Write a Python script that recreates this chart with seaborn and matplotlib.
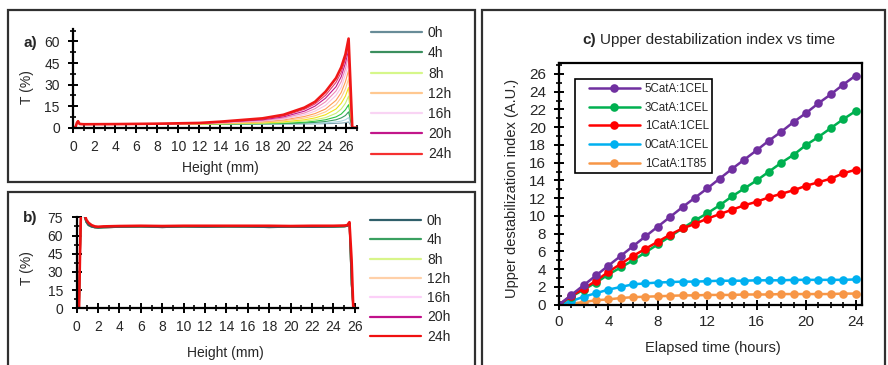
import matplotlib
matplotlib.use("Agg")
import matplotlib.pyplot as plt
import seaborn as sns
import numpy as np
import pandas as pd
from matplotlib.lines import Line2D
from matplotlib.patches import Rectangle
from matplotlib.ticker import MultipleLocator

# ---------------- data ----------------
# panel a : transmission profiles (every 2 h), height in mm
height_a = [0, 0.2, 0.35, 0.45, 0.6, 1, 4, 8, 12, 14, 18, 20, 22, 23, 24, 25, 25.5, 25.9, 26.2, 26.55, 27.0]
hours_a = ["0h", "2h", "4h", "6h", "8h", "10h", "12h", "14h", "16h", "18h", "20h", "22h", "24h"]
T_a_0h  = [0, 0.3, 3.5, 4.5, 2.6, 2.4, 2.4, 2.4, 2.4, 2.4, 2.5, 2.5, 2.6, 2.7, 2.8, 3.0, 3.2, 3.5, 4.0, 0, 0]
T_a_2h  = [0, 0.3, 3.5, 4.5, 2.6, 2.4, 2.4, 2.4, 2.4, 2.5, 2.6, 2.7, 2.9, 3.1, 3.4, 4.0, 4.6, 5.5, 7.0, 0, 0]
T_a_4h  = [0, 0.3, 3.5, 4.5, 2.6, 2.4, 2.4, 2.4, 2.4, 2.5, 2.7, 2.9, 3.3, 3.7, 4.3, 5.5, 6.8, 8.5, 11.0, 0, 0]
T_a_6h  = [0, 0.3, 3.5, 4.5, 2.6, 2.4, 2.4, 2.4, 2.5, 2.6, 2.9, 3.2, 3.8, 4.5, 5.5, 7.5, 9.5, 12.5, 16.0, 0, 0]
T_a_8h  = [0, 0.3, 3.5, 4.5, 2.6, 2.4, 2.4, 2.5, 2.6, 2.7, 3.1, 3.6, 4.6, 5.5, 7.0, 10.0, 13.0, 17.0, 22.0, 0, 0]
T_a_10h = [0, 0.3, 3.5, 4.5, 2.6, 2.4, 2.4, 2.5, 2.6, 2.8, 3.4, 4.1, 5.5, 6.8, 9.0, 13.0, 17.0, 22.0, 28.0, 0, 0]
T_a_12h = [0, 0.3, 3.5, 4.5, 2.6, 2.4, 2.5, 2.5, 2.7, 3.0, 3.8, 4.8, 6.7, 8.3, 11.0, 16.0, 21.0, 27.0, 34.0, 0, 0]
T_a_14h = [0, 0.3, 3.5, 4.5, 2.6, 2.4, 2.5, 2.6, 2.8, 3.2, 4.2, 5.4, 7.8, 9.8, 13.0, 19.0, 24.5, 32.0, 40.0, 0, 0]
T_a_16h = [0, 0.3, 3.5, 4.5, 2.6, 2.4, 2.5, 2.6, 2.9, 3.4, 4.6, 6.0, 9.0, 11.5, 15.5, 22.5, 28.0, 37.0, 45.0, 0, 0]
T_a_18h = [0, 0.3, 3.5, 4.5, 2.6, 2.4, 2.5, 2.7, 3.0, 3.6, 5.0, 6.7, 10.2, 13.2, 18.0, 25.5, 32.0, 41.0, 50.0, 0, 0]
T_a_20h = [0, 0.3, 3.5, 4.5, 2.6, 2.4, 2.5, 2.7, 3.1, 3.8, 5.5, 7.5, 11.5, 15.0, 20.5, 28.5, 35.5, 45.0, 54.0, 0, 0]
T_a_22h = [0, 0.3, 3.5, 4.5, 2.6, 2.4, 2.5, 2.8, 3.2, 4.0, 6.0, 8.2, 12.8, 16.5, 22.5, 31.5, 38.5, 48.0, 58.0, 0, 0]
T_a_24h = [0, 0.3, 3.5, 4.5, 2.6, 2.4, 2.5, 2.8, 3.3, 4.2, 6.5, 9.0, 14.0, 18.0, 25.0, 34.5, 42.0, 51.0, 62.0, 0, 0]
T_a = [T_a_0h, T_a_2h, T_a_4h, T_a_6h, T_a_8h, T_a_10h, T_a_12h,
       T_a_14h, T_a_16h, T_a_18h, T_a_20h, T_a_22h, T_a_24h]
colors_a = ["#7fa4b0", "#a9d6e2", "#3a9a62", "#2cc444", "#c9ef74", "#efe21a", "#ffc88c",
            "#ff9d55", "#f6c4e6", "#f08ab8", "#c2168a", "#e23a70", "#f01818"]
legend_hours = ["0h", "4h", "8h", "12h", "16h", "20h", "24h"]
legend_colors_a = ["#688c98", "#3b8f5e", "#d6f78a", "#ffc890", "#f9d4f4", "#c2168a", "#f53030"]

# panel b : transmission profiles (curves 0h-20h overlap each other)
height_b = [0, 0.22, 0.3, 0.42, 0.6, 0.75, 0.9, 1.1, 1.4, 1.7, 2.0, 2.5, 4, 6, 8, 10, 12, 14,
            16, 18, 20, 22, 24, 25.0, 25.3, 25.5, 25.7, 25.85, 26.0, 26.3]
T_b_early = [0, 0, 38, 88, 88, 75, 71, 68.5, 67.2, 66.6, 66.3, 66.6, 67.0, 67.2, 66.8, 67.2, 67.0,
             67.2, 67.1, 66.8, 67.0, 66.9, 67.1, 67.4, 67.8, 69.5, 20, 1, 0, 0]
T_b_24h = [0, 0, 40, 90, 90, 77, 73, 70.5, 68.5, 67.5, 67.2, 67.5, 67.8, 68.0, 67.8, 68.0, 68.0,
           68.0, 68.0, 68.0, 67.8, 68.0, 68.0, 68.2, 68.5, 71.0, 40, 2, 0, 0]
legend_colors_b = ["#2f5f6a", "#3aa060", "#d8f58a", "#ffd0a8", "#fcd0f8", "#c0108a", "#f01010"]

# panel c : upper destabilization index vs elapsed time
elapsed_h = list(range(25))
idx_5CatA_1CEL = [0, 1.1, 2.2, 3.3, 4.4, 5.5, 6.6, 7.7, 8.8, 9.9, 11.0, 12.05, 13.1, 14.2, 15.3,
                  16.35, 17.4, 18.5, 19.5, 20.6, 21.6, 22.7, 23.7, 24.8, 25.8]
idx_3CatA_1CEL = [0, 0.9, 1.7, 2.5, 3.4, 4.2, 5.0, 5.9, 6.8, 7.7, 8.6, 9.5, 10.3, 11.2, 12.2,
                  13.1, 14.0, 15.0, 16.0, 16.9, 18.0, 18.9, 19.9, 20.9, 21.8]
idx_1CatA_1CEL = [0, 1.0, 1.8, 2.7, 3.7, 4.6, 5.5, 6.3, 7.1, 7.9, 8.6, 9.1, 9.7, 10.2, 10.7,
                  11.2, 11.6, 12.1, 12.5, 12.9, 13.4, 13.8, 14.2, 14.8, 15.2]
idx_0CatA_1CEL = [0, 0.4, 0.9, 1.3, 1.7, 2.0, 2.3, 2.4, 2.5, 2.55, 2.6, 2.6, 2.65, 2.7, 2.7,
                  2.7, 2.75, 2.75, 2.75, 2.8, 2.8, 2.8, 2.8, 2.8, 2.85]
idx_1CatA_1T85 = [0, 0.1, 0.3, 0.5, 0.6, 0.75, 0.85, 0.9, 0.95, 1.0, 1.05, 1.05, 1.1, 1.1, 1.1,
                  1.15, 1.15, 1.15, 1.2, 1.2, 1.2, 1.2, 1.2, 1.25, 1.25]
series_c = ["5CatA:1CEL", "3CatA:1CEL", "1CatA:1CEL", "0CatA:1CEL", "1CatA:1T85"]
values_c = [idx_5CatA_1CEL, idx_3CatA_1CEL, idx_1CatA_1CEL, idx_0CatA_1CEL, idx_1CatA_1T85]
colors_c = ["#7030a0", "#00b050", "#ff0000", "#00b0f0", "#f79646"]
draw_order_c = [4, 3, 1, 2, 0]

# ---------------- style ----------------
sns.set_theme(style="white")
plt.rcParams["font.family"] = ["Liberation Sans", "DejaVu Sans"]

W, H = 888, 365
fig = plt.figure(figsize=(W / 100, H / 100), dpi=100)


def ax_px(left, top, right, bottom):
    return fig.add_axes([left / W, 1 - bottom / H, (right - left) / W, (bottom - top) / H])


def fx(x):
    return x / W


def fy(y):
    return 1 - y / H


def style_axes(ax, full_box=False, lw=1.6):
    for s in ["left", "bottom"]:
        ax.spines[s].set_linewidth(lw)
        ax.spines[s].set_color("black")
    for s in ["top", "right"]:
        ax.spines[s].set_visible(full_box)
        ax.spines[s].set_linewidth(lw)
        ax.spines[s].set_color("black")
    ax.set_facecolor("none")
    ax.tick_params(which="major", direction="inout", length=6.5, width=1.4, color="black",
                   bottom=True, left=True)
    ax.tick_params(which="minor", direction="inout", length=5, width=1.2, color="black",
                   bottom=True, left=True)
    ax.set_xlabel("")
    ax.set_ylabel("")
    ax.grid(False)


# panel frames (decoration)
for (l, t, r, b) in [(8, 10, 475, 182), (8, 192, 475, 372), (482, 10, 885, 372)]:
    fig.patches.append(Rectangle((fx(l), fy(b)), fx(r - l), (b - t) / H, transform=fig.transFigure,
                                 fill=False, edgecolor="#303030", linewidth=1.6, zorder=0))

# ---------------- panel a ----------------
axa = ax_px(73.3, 28.5, 357, 127.7)
for hname, vals, col in zip(hours_a, T_a, colors_a):
    lw = 1.9 if hname == "24h" else 0.8
    sns.lineplot(x=height_a, y=vals, ax=axa, color=col, linewidth=lw, sort=False,
                 estimator=None, legend=False)
axa.set_xlim(0, 27.0)
axa.set_ylim(0, 69)
axa.xaxis.set_major_locator(MultipleLocator(2))
axa.xaxis.set_minor_locator(MultipleLocator(1))
axa.yaxis.set_major_locator(MultipleLocator(15))
axa.yaxis.set_minor_locator(MultipleLocator(7.5))
style_axes(axa)
axa.tick_params(axis="x", which="major", labelsize=10, pad=5.5)
axa.tick_params(axis="y", which="major", labelsize=10, pad=6.5)

fig.text(fx(220), fy(168), "Height (mm)", ha="center", va="center", fontsize=10)
fig.text(fx(27), fy(87), "T (%)", ha="center", va="center", fontsize=10, rotation=90)
fig.text(fx(23), fy(43), "a)", ha="left", va="center", fontsize=11, fontweight="bold")

handles_a = [Line2D([], [], color=c, lw=1.6) for c in legend_colors_a]
fig.legend(handles_a, legend_hours, loc="upper left", bbox_to_anchor=(fx(371), fy(26)),
           frameon=False, fontsize=10, handlelength=3.7, handletextpad=0.4,
           labelspacing=0.45, borderpad=0, borderaxespad=0)

# ---------------- panel b ----------------
axb = ax_px(76.7, 217.3, 358, 308.3)
early_hours = ["20h", "16h", "12h", "8h", "4h", "0h"]
early_cols = [legend_colors_b[5], legend_colors_b[4], legend_colors_b[3],
              legend_colors_b[2], legend_colors_b[1], legend_colors_b[0]]
for hname, col in zip(early_hours, early_cols):
    sns.lineplot(x=height_b, y=T_b_early, ax=axb, color=col, linewidth=1.2, sort=False,
                 estimator=None, legend=False)
sns.lineplot(x=height_b, y=T_b_24h, ax=axb, color=legend_colors_b[6], linewidth=1.9, sort=False,
             estimator=None, legend=False)
axb.set_xlim(0, 26.3)
axb.set_ylim(0, 75)
axb.xaxis.set_major_locator(MultipleLocator(2))
axb.xaxis.set_minor_locator(MultipleLocator(1))
axb.yaxis.set_major_locator(MultipleLocator(15))
axb.yaxis.set_minor_locator(MultipleLocator(7.5))
style_axes(axb)
axb.tick_params(axis="x", which="major", labelsize=10, pad=5.5)
axb.tick_params(axis="y", which="major", labelsize=10, pad=6.5)

fig.text(fx(225), fy(353), "Height (mm)", ha="center", va="center", fontsize=10)
fig.text(fx(27), fy(268), "T (%)", ha="center", va="center", fontsize=10, rotation=90)
fig.text(fx(23), fy(218), "b)", ha="left", va="center", fontsize=11, fontweight="bold")

handles_b = [Line2D([], [], color=c, lw=1.6) for c in legend_colors_b]
fig.legend(handles_b, legend_hours, loc="upper left", bbox_to_anchor=(fx(370), fy(214)),
           frameon=False, fontsize=10, handlelength=3.7, handletextpad=0.4,
           labelspacing=0.38, borderpad=0, borderaxespad=0)

# ---------------- panel c ----------------
axc = ax_px(559, 63.3, 861.7, 304.7)
for i in draw_order_c:
    sns.lineplot(x=elapsed_h, y=values_c[i], ax=axc, color=colors_c[i], linewidth=1.8,
                 marker="o", markersize=6.2, markeredgewidth=0, sort=False,
                 estimator=None, legend=False)
axc.set_xlim(0, 24.5)
axc.set_ylim(0, 27.2)
axc.xaxis.set_major_locator(MultipleLocator(4))
axc.xaxis.set_minor_locator(MultipleLocator(1))
axc.yaxis.set_major_locator(MultipleLocator(2))
axc.yaxis.set_minor_locator(MultipleLocator(1))
style_axes(axc, full_box=True)
axc.tick_params(which="major", length=7)
axc.tick_params(which="minor", length=5)
axc.tick_params(axis="x", which="major", labelsize=11, pad=4)
axc.tick_params(axis="y", which="major", labelsize=11, pad=6)

handles_c = [Line2D([], [], color=colors_c[i], lw=1.8, marker="o", markersize=6.2,
                    markeredgewidth=0) for i in range(5)]
axc.legend(handles_c, series_c, loc="upper left", bbox_to_anchor=(fx(589), fy(83)),
           bbox_transform=fig.transFigure, frameon=False, fontsize=8.3, handlelength=4.4,
           handletextpad=0.45, labelspacing=0.58, borderpad=0, borderaxespad=0, numpoints=1)
fig.patches.append(Rectangle((fx(575), fy(173)), fx(712 - 575), (173 - 79) / H,
                             transform=fig.transFigure, fill=False, edgecolor="black",
                             linewidth=1.2, zorder=5))

fig.text(fx(713), fy(348), "Elapsed time (hours)", ha="center", va="center", fontsize=10.5)
fig.text(fx(512), fy(188), "Upper destabilization index (A.U.)", ha="center", va="center",
         fontsize=10.5, rotation=90)

t1 = fig.text(fx(582), fy(40), "c)", ha="left", va="center", fontsize=11, fontweight="bold")
fig.canvas.draw()
bb = t1.get_window_extent()
fig.text(bb.x1 / W + fx(4), fy(40), "Upper destabilization index vs time", ha="left",
         va="center", fontsize=11)

fig.savefig("out.png", dpi=100)
